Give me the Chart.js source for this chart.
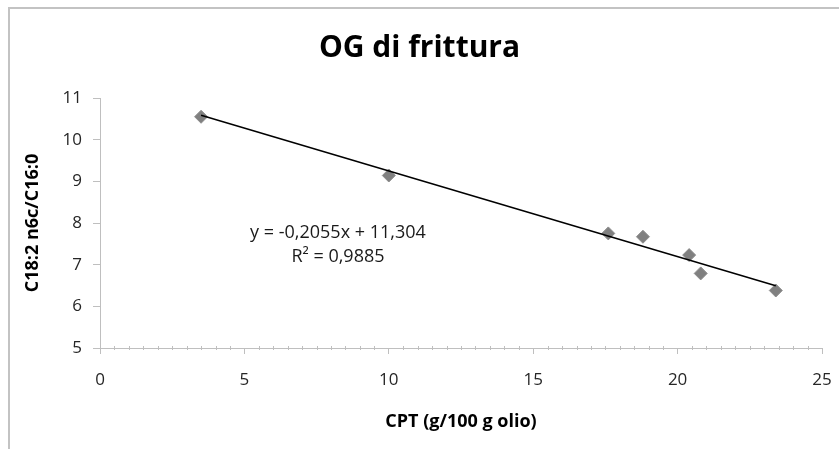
<!DOCTYPE html>
<html>
<head>
<meta charset="utf-8">
<script src="https://cdn.jsdelivr.net/npm/chart.js@4"></script>
<style>
  html, body { margin: 0; padding: 0; background: #fff; overflow: hidden; }
  #wrap { position: relative; width: 839px; height: 449px; }
  #frame {
    position: absolute; left: 8px; top: 7px; width: 900px; height: 500px;
    border-left: 2px solid #c3c3c3; border-top: 2px solid #c3c3c3;
    pointer-events: none;
  }
</style>
</head>
<body>
<div id="wrap">
  <canvas id="ogChart" width="839" height="449"></canvas>
  <div id="frame"></div>
</div>
<script>
// values
const cptValues = [3.5, 10.0, 17.6, 18.8, 20.4, 20.8, 23.4];
const ratioValues = [10.55, 9.14, 7.75, 7.67, 7.23, 6.79, 6.38];
const xTicks = [0, 5, 10, 15, 20, 25];
const yTicks = [5, 6, 7, 8, 9, 10, 11];

// trendline as printed on the chart
const trendSlope = -0.2055;
const trendIntercept = 11.304;
const eqLabel = 'y = -0,2055x + 11,304';
const r2Label = 'R² = 0,9885';

const chartCanvas = document.getElementById('ogChart');

Chart.defaults.font.family = "'Open Sans', sans-serif";

// build the point list for the scatter
let points = [];
for (var i = 0; i < cptValues.length; i++) {
    points.push({ x: cptValues[i], y: ratioValues[i] });
}

// trendline from the smallest to the largest x
const xMin = Math.min(...cptValues);
const xMax = Math.max(...cptValues);
const trendPoints = [
    { x: xMin, y: trendSlope * xMin + trendIntercept },
    { x: xMax, y: trendSlope * xMax + trendIntercept }
];

// small ticks every 0.5 on the x axis plus the equation text
const extrasPlugin = {
    id: 'extras',
    afterDraw(chart) {
        const ctx = chart.ctx;
        const xs = chart.scales.x;
        const ys = chart.scales.y;
        const axisY = ys.getPixelForValue(ys.min);
        ctx.save();
        ctx.strokeStyle = '#bfbfbf';
        ctx.lineWidth = 1;
        for (var v = xs.min; v <= xs.max; v += 0.5) {
            if (v % 5 === 0) continue;
            const px = Math.round(xs.getPixelForValue(v)) + 0.5;
            ctx.beginPath();
            ctx.moveTo(px, axisY - 2);
            ctx.lineTo(px, axisY + 2);
            ctx.stroke();
        }
        //equation label
        ctx.fillStyle = '#1a1a1a';
        ctx.font = "18px 'Open Sans', sans-serif";
        ctx.textAlign = 'center';
        ctx.textBaseline = 'middle';
        const lx = xs.getPixelForValue(8.24);
        ctx.fillText(eqLabel, lx, ys.getPixelForValue(7.76));
        ctx.fillText(r2Label, lx, ys.getPixelForValue(7.19));
        ctx.restore();
    }
};

const ogChart = new Chart(chartCanvas, {
    type: 'scatter',
    data: {
        datasets: [{
            type: 'line',
            label: 'Trend',
            data: trendPoints,
            borderColor: '#000000',
            borderWidth: 1.5,
            pointRadius: 0,
            order: 0
        }, {
            label: 'OG di frittura',
            data: points,
            pointStyle: 'rectRot',
            pointRadius: 6.5,
            backgroundColor: '#808080',
            borderColor: '#8c8c8c',
            borderWidth: 1,
            order: 1
        }]
    },
    options: {
        responsive: false,
        animation: false,
        devicePixelRatio: 1,
        layout: { padding: 0 },
        plugins: {
            legend: { display: false },
            tooltip: { enabled: false },
            title: {
                display: true,
                text: 'OG di frittura',
                color: '#000000',
                font: { size: 30, weight: 'bold' },
                padding: { top: 30, bottom: 32 }
            }
        },
        scales: {
            x: {
                type: 'linear',
                min: 0,
                max: 25,
                afterBuildTicks: scale => { scale.ticks = xTicks.map(v => ({ value: v })); },
                afterFit: scale => {
                    scale.height = 101;
                    //tick padding would otherwise be added to the side overhang
                    scale.paddingRight = 10;
                    scale.paddingLeft = 10;
                },
                grid: { drawOnChartArea: false, drawTicks: true, tickLength: 6, color: '#bfbfbf' },
                border: { display: true, color: '#bfbfbf', width: 1 },
                ticks: { color: '#262626', font: { size: 17 }, padding: 16, maxRotation: 0 },
                title: {
                    display: true,
                    text: 'CPT (g/100 g olio)',
                    color: '#000000',
                    font: { size: 18, weight: 'bold' },
                    padding: { top: 0, bottom: 16 }
                }
            },
            y: {
                type: 'linear',
                min: 5,
                max: 11,
                afterBuildTicks: scale => { scale.ticks = yTicks.map(v => ({ value: v })); },
                afterFit: scale => { scale.width = 100; },
                grid: { drawOnChartArea: false, drawTicks: true, tickLength: 7, color: '#bfbfbf' },
                border: { display: true, color: '#bfbfbf', width: 1 },
                ticks: { color: '#262626', font: { size: 17 }, padding: 11 },
                title: {
                    display: true,
                    text: 'C18:2 n6c/C16:0',
                    color: '#000000',
                    font: { size: 18, weight: 'bold' },
                    padding: { top: 22, bottom: 0 }
                }
            },
            //empty right axis only to leave the right margin
            y2: {
                type: 'linear',
                position: 'right',
                afterFit: scale => { scale.width = 17; },
                grid: { display: false },
                border: { display: false },
                ticks: { display: false }
            }
        }
    },
    plugins: [extrasPlugin]
});
</script>
</body>
</html>
